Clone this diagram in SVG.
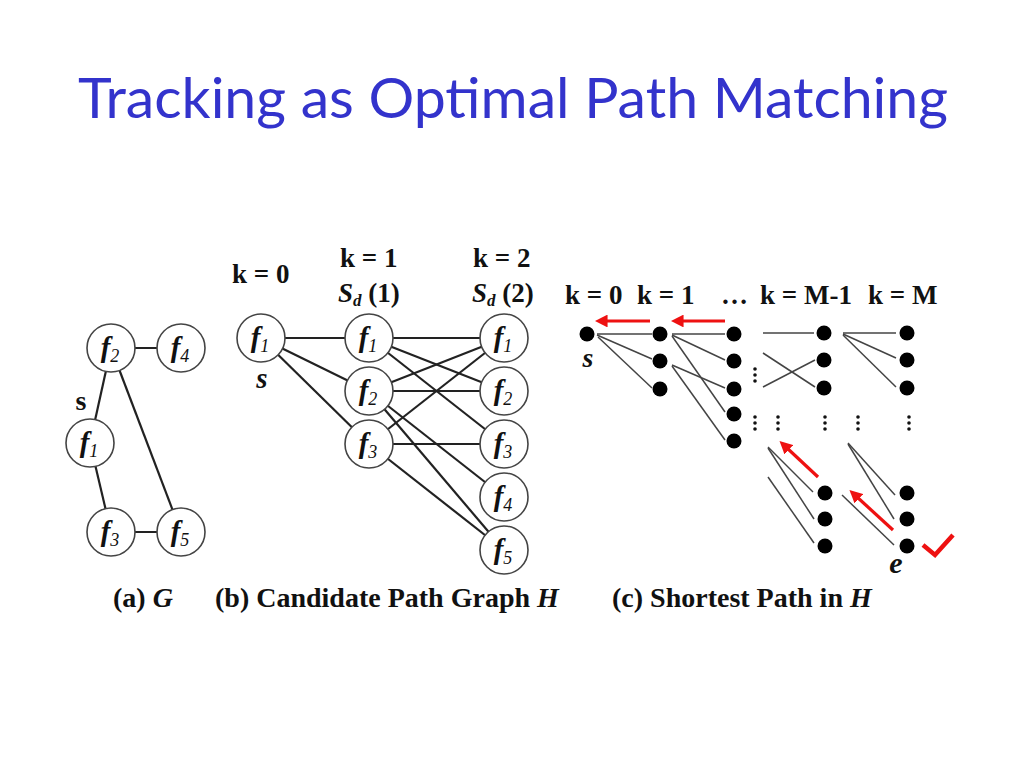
<svg xmlns="http://www.w3.org/2000/svg" width="1024" height="768" viewBox="0 0 1024 768">
<style>
.title{font-family:Lato,"Open Sans","Liberation Sans",sans-serif;font-size:56px;fill:#3333CC}
.serif{font-family:"Liberation Serif","Times New Roman",serif;fill:#111}
.cap{font-size:28px;font-weight:bold}
.hdr{font-size:27px;font-weight:bold}
.lbl{font-size:29px;font-style:italic;font-weight:bold}
.sub{font-size:18px;font-style:italic;font-weight:normal}
.node{fill:#fff;stroke:#444;stroke-width:1.6}
.ea{stroke:#222;stroke-width:2.2;fill:none}
.eb{stroke:#222;stroke-width:2.2;fill:none}
.ec{stroke:#444;stroke-width:1.5;fill:none}
.red{stroke:#EE1111;stroke-width:3.2;fill:none}
.dot{fill:#000}
.vd{fill:#111}
</style>
<defs>
<marker id="ah" viewBox="0 0 10 10" refX="2" refY="5" markerWidth="4" markerHeight="4" orient="auto-start-reverse">
<path d="M0,0 L10,5 L0,10 Z" fill="#EE1111"/>
</marker>
</defs>

<text class="title" x="513" y="118" text-anchor="middle" textLength="870" lengthAdjust="spacingAndGlyphs">Tracking as Optimal Path Matching</text>

<!-- Panel (a) connectors -->
<g id="connectors-a">
<line class="ea" x1="111" y1="348" x2="181" y2="348"/>
<line class="ea" x1="111" y1="348" x2="90" y2="443"/>
<line class="ea" x1="111" y1="348" x2="181" y2="532"/>
<line class="ea" x1="90" y1="443" x2="111" y2="532"/>
<line class="ea" x1="111" y1="532" x2="181" y2="532"/>
</g>
<g id="a-f2"><circle class="node" cx="111" cy="348" r="24"/><text class="serif lbl" x="110" y="357" text-anchor="middle">f<tspan class="sub" dy="5">2</tspan></text></g>
<g id="a-f4"><circle class="node" cx="181" cy="348" r="24"/><text class="serif lbl" x="180" y="357" text-anchor="middle">f<tspan class="sub" dy="5">4</tspan></text></g>
<g id="a-f1"><circle class="node" cx="90" cy="443" r="24"/><text class="serif lbl" x="89" y="452" text-anchor="middle">f<tspan class="sub" dy="5">1</tspan></text></g>
<g id="a-f3"><circle class="node" cx="111" cy="532" r="24"/><text class="serif lbl" x="110" y="541" text-anchor="middle">f<tspan class="sub" dy="5">3</tspan></text></g>
<g id="a-f5"><circle class="node" cx="181" cy="532" r="24"/><text class="serif lbl" x="180" y="541" text-anchor="middle">f<tspan class="sub" dy="5">5</tspan></text></g>
<text class="serif" x="81" y="410" text-anchor="middle" font-size="28" font-weight="bold">s</text>
<text class="serif cap" x="113" y="607">(a) <tspan font-style="italic">G</tspan></text>

<!-- Panel (b) connectors -->
<g id="connectors-b">
<line class="eb" x1="261" y1="338" x2="369" y2="338"/>
<line class="eb" x1="261" y1="338" x2="369" y2="391"/>
<line class="eb" x1="261" y1="338" x2="369" y2="444"/>
<line class="eb" x1="369" y1="338" x2="504" y2="338"/>
<line class="eb" x1="369" y1="338" x2="504" y2="391"/>
<line class="eb" x1="369" y1="338" x2="504" y2="444"/>
<line class="eb" x1="369" y1="391" x2="504" y2="338"/>
<line class="eb" x1="369" y1="391" x2="504" y2="391"/>
<line class="eb" x1="369" y1="391" x2="504" y2="497"/>
<line class="eb" x1="369" y1="391" x2="504" y2="550"/>
<line class="eb" x1="369" y1="444" x2="504" y2="338"/>
<line class="eb" x1="369" y1="444" x2="504" y2="444"/>
<line class="eb" x1="369" y1="444" x2="504" y2="550"/>
</g>
<g id="b0-f1"><circle class="node" cx="261" cy="338" r="24"/><text class="serif lbl" x="260" y="347" text-anchor="middle">f<tspan class="sub" dy="5">1</tspan></text></g>
<g id="b1-f1"><circle class="node" cx="369" cy="338" r="24"/><text class="serif lbl" x="368" y="347" text-anchor="middle">f<tspan class="sub" dy="5">1</tspan></text></g>
<g id="b1-f2"><circle class="node" cx="369" cy="391" r="24"/><text class="serif lbl" x="368" y="400" text-anchor="middle">f<tspan class="sub" dy="5">2</tspan></text></g>
<g id="b1-f3"><circle class="node" cx="369" cy="444" r="24"/><text class="serif lbl" x="368" y="453" text-anchor="middle">f<tspan class="sub" dy="5">3</tspan></text></g>
<g id="b2-f1"><circle class="node" cx="504" cy="338" r="24"/><text class="serif lbl" x="503" y="347" text-anchor="middle">f<tspan class="sub" dy="5">1</tspan></text></g>
<g id="b2-f2"><circle class="node" cx="504" cy="391" r="24"/><text class="serif lbl" x="503" y="400" text-anchor="middle">f<tspan class="sub" dy="5">2</tspan></text></g>
<g id="b2-f3"><circle class="node" cx="504" cy="444" r="24"/><text class="serif lbl" x="503" y="453" text-anchor="middle">f<tspan class="sub" dy="5">3</tspan></text></g>
<g id="b2-f4"><circle class="node" cx="504" cy="497" r="24"/><text class="serif lbl" x="503" y="506" text-anchor="middle">f<tspan class="sub" dy="5">4</tspan></text></g>
<g id="b2-f5"><circle class="node" cx="504" cy="550" r="24"/><text class="serif lbl" x="503" y="559" text-anchor="middle">f<tspan class="sub" dy="5">5</tspan></text></g>
<text class="serif" x="262" y="388" text-anchor="middle" font-size="29" font-weight="bold" font-style="italic">s</text>
<text class="serif hdr" x="232" y="283">k = 0</text>
<text class="serif hdr" x="340" y="267">k = 1</text>
<text class="serif hdr" x="338" y="302"><tspan font-style="italic">S</tspan><tspan font-size="17" font-style="italic" dy="4">d</tspan><tspan dy="-4"> (1)</tspan></text>
<text class="serif hdr" x="473" y="267">k = 2</text>
<text class="serif hdr" x="472" y="302"><tspan font-style="italic">S</tspan><tspan font-size="17" font-style="italic" dy="4">d</tspan><tspan dy="-4"> (2)</tspan></text>
<text class="serif cap" x="215" y="607">(b) Candidate Path Graph <tspan font-style="italic">H</tspan></text>

<!-- Panel (c) -->
<text class="serif hdr" x="565" y="304">k = 0</text>
<text class="serif hdr" x="637" y="304">k = 1</text>
<text class="serif hdr" x="721" y="304">…</text>
<text class="serif hdr" x="760" y="304">k = M-1</text>
<text class="serif hdr" x="868" y="304">k = M</text>

<g id="connectors-c">
<line class="ec" x1="597" y1="334" x2="652" y2="334"/>
<line class="ec" x1="597" y1="335" x2="652" y2="359"/>
<line class="ec" x1="598" y1="337" x2="652" y2="388"/>
<line class="ec" x1="672" y1="334" x2="725" y2="334"/>
<line class="ec" x1="672" y1="335" x2="725" y2="360"/>
<line class="ec" x1="672" y1="336" x2="725" y2="412"/>
<line class="ec" x1="672" y1="365" x2="725" y2="388"/>
<line class="ec" x1="672" y1="366" x2="725" y2="440"/>
<line class="ec" x1="763" y1="333" x2="814" y2="333"/>
<line class="ec" x1="763" y1="353" x2="815" y2="387"/>
<line class="ec" x1="763" y1="387" x2="815" y2="360"/>
<line class="ec" x1="843" y1="333" x2="896" y2="333"/>
<line class="ec" x1="843" y1="334" x2="896" y2="358"/>
<line class="ec" x1="843" y1="335" x2="896" y2="387"/>
<line class="ec" x1="768" y1="447" x2="813" y2="492"/>
<line class="ec" x1="768" y1="448" x2="814" y2="519"/>
<line class="ec" x1="768" y1="477" x2="814" y2="543"/>
<line class="ec" x1="848" y1="443" x2="895" y2="495"/>
<line class="ec" x1="848" y1="444" x2="894" y2="519"/>
<line class="ec" x1="842" y1="495" x2="894" y2="545"/>
<line class="red" x1="650" y1="321" x2="605" y2="321" marker-end="url(#ah)"/>
<line class="red" x1="725" y1="321" x2="681" y2="321" marker-end="url(#ah)"/>
<line class="red" x1="818" y1="477" x2="787" y2="448" marker-end="url(#ah)"/>
<line class="red" x1="893" y1="530" x2="857" y2="497" marker-end="url(#ah)"/>
</g>

<g id="c-s"><circle class="dot" cx="587" cy="334" r="7.5"/></g>
<g id="c-k1">
<circle class="dot" cx="660" cy="334" r="7.5"/>
<circle class="dot" cx="660" cy="361" r="7.5"/>
<circle class="dot" cx="660" cy="389" r="7.5"/>
</g>
<g id="c-k2">
<circle class="dot" cx="734" cy="334" r="7.5"/>
<circle class="dot" cx="734" cy="361" r="7.5"/>
<circle class="dot" cx="734" cy="389" r="7.5"/>
<circle class="dot" cx="734" cy="414" r="7.5"/>
<circle class="dot" cx="734" cy="441" r="7.5"/>
</g>
<g id="c-kM1">
<circle class="dot" cx="824" cy="333" r="7.5"/>
<circle class="dot" cx="824" cy="360" r="7.5"/>
<circle class="dot" cx="824" cy="388" r="7.5"/>
<circle class="dot" cx="825" cy="493" r="7.5"/>
<circle class="dot" cx="825" cy="519" r="7.5"/>
<circle class="dot" cx="825" cy="546" r="7.5"/>
</g>
<g id="c-kM">
<circle class="dot" cx="907" cy="333" r="7.5"/>
<circle class="dot" cx="907" cy="360" r="7.5"/>
<circle class="dot" cx="907" cy="388" r="7.5"/>
<circle class="dot" cx="907" cy="493" r="7.5"/>
<circle class="dot" cx="907" cy="519" r="7.5"/>
<circle class="dot" cx="907" cy="546" r="7.5"/>
</g>
<g id="c-vdots">
<circle class="vd" cx="755" cy="369" r="1.8"/><circle class="vd" cx="755" cy="375" r="1.8"/><circle class="vd" cx="755" cy="381" r="1.8"/>
<circle class="vd" cx="755" cy="417" r="1.8"/><circle class="vd" cx="755" cy="423" r="1.8"/><circle class="vd" cx="755" cy="429" r="1.8"/>
<circle class="vd" cx="778" cy="417" r="1.8"/><circle class="vd" cx="778" cy="423" r="1.8"/><circle class="vd" cx="778" cy="429" r="1.8"/>
<circle class="vd" cx="825" cy="417" r="1.8"/><circle class="vd" cx="825" cy="423" r="1.8"/><circle class="vd" cx="825" cy="429" r="1.8"/>
<circle class="vd" cx="858" cy="417" r="1.8"/><circle class="vd" cx="858" cy="423" r="1.8"/><circle class="vd" cx="858" cy="429" r="1.8"/>
<circle class="vd" cx="909" cy="417" r="1.8"/><circle class="vd" cx="909" cy="423" r="1.8"/><circle class="vd" cx="909" cy="429" r="1.8"/>
</g>
<text class="serif" x="588" y="367" text-anchor="middle" font-size="28" font-weight="bold" font-style="italic">s</text>
<text class="serif" x="896" y="573" text-anchor="middle" font-size="30" font-weight="bold" font-style="italic">e</text>
<polyline points="923,545 935,555 953,535" fill="none" stroke="#EE1111" stroke-width="4.5" stroke-linejoin="miter"/>
<text class="serif cap" x="612" y="607">(c) Shortest Path in <tspan font-style="italic">H</tspan></text>
</svg>
